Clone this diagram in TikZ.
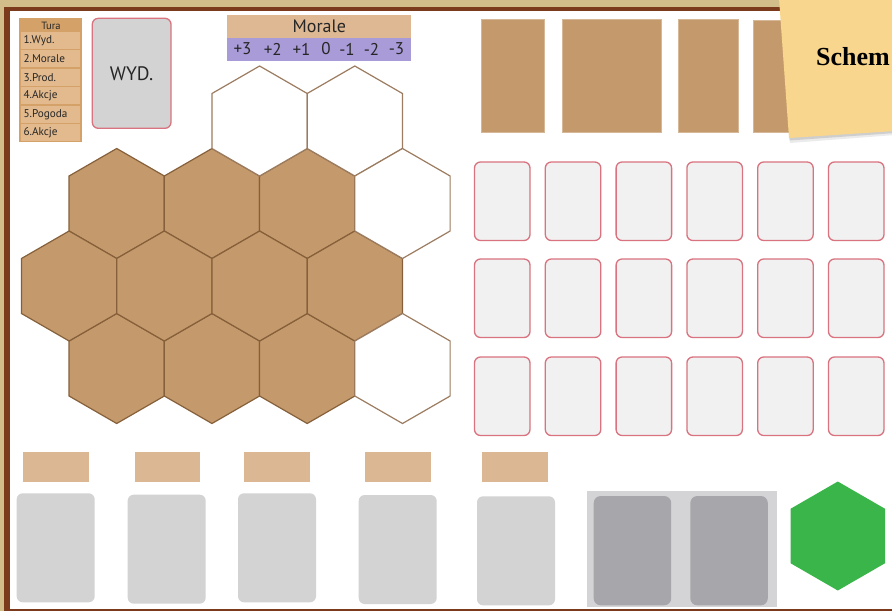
\documentclass[tikz,border=0pt]{standalone}
\usepackage{fontspec}
\setmainfont{PT Sans}
\newfontfamily\notefont{Liberation Serif}
\usetikzlibrary{shapes.geometric}
\definecolor{woodbg}{HTML}{D2BD8A}
\definecolor{framecol}{HTML}{7B3A1C}
\definecolor{hexbrown}{HTML}{C49A6C}
\definecolor{hexline}{HTML}{86603A}
\definecolor{hexwline}{HTML}{9C7C60}
\definecolor{cardline}{HTML}{D9737F}
\definecolor{cardfill}{HTML}{F1F1F2}
\definecolor{slotgray}{HTML}{D3D3D3}
\definecolor{slotdark}{HTML}{A7A6AB}
\definecolor{slotbg}{HTML}{D4D4D6}
\definecolor{tanlabel}{HTML}{DBB794}
\definecolor{moralehead}{HTML}{DDB893}
\definecolor{moralebar}{HTML}{A99AD8}
\definecolor{turaout}{HTML}{D4A269}
\definecolor{turain}{HTML}{E2BA8E}
\definecolor{notecol}{HTML}{F8D68E}
\definecolor{hexgreen}{HTML}{39B54A}
\definecolor{txt}{HTML}{262626}
\definecolor{topbrown}{HTML}{C49A6C}
\tikzset{
  box/.style={rectangle, anchor=north west, inner sep=0pt, outer sep=0pt},
  hexcell/.style={regular polygon, regular polygon sides=6, shape border rotate=30,
    minimum size=110pt, inner sep=0pt, outer sep=0pt},
  brownhex/.style={hexcell, fill=hexbrown, draw=hexline, line width=1.2pt},
  whitehex/.style={hexcell, fill=white, draw=hexwline, line width=1.2pt},
  greenhex/.style={hexcell, minimum size=109pt, fill=hexgreen},
  redcard/.style={box, fill=cardfill, draw=cardline, line width=1.3pt, rounded corners=6pt,
    minimum width=55.5pt, minimum height=78.5pt},
  graycard/.style={box, fill=slotgray, rounded corners=6pt, minimum width=78pt, minimum height=109pt},
  darkcard/.style={box, fill=slotdark, rounded corners=7pt, minimum width=77.5pt, minimum height=109.3pt},
  tanlab/.style={box, fill=tanlabel, minimum width=65.7pt, minimum height=29.3pt},
  topslot/.style={box, fill=topbrown, draw=topbrown!70!white, line width=0.5pt, minimum height=113pt},
  turacell/.style={box, fill=turain, minimum width=58.7pt, minimum height=16.8pt},
  turatxt/.style={anchor=west, inner sep=0pt, text=txt, font=\fontsize{11.2}{13}\selectfont},
  numtxt/.style={inner sep=0pt, text=txt, font=\fontsize{17}{20}\selectfont}
}
\begin{document}
\begin{tikzpicture}[x=1pt,y=-1pt]
\useasboundingbox (0,0) rectangle (892,611);
% background and frame
\fill[woodbg] (0,0) rectangle (892,611);
\fill[framecol] (4,7) rectangle (892,611);
\fill[white] (10,11) rectangle (892,608.5);

% Tura panel
\node[box, fill=turaout, minimum width=63pt, minimum height=124pt] (tura) at (19.3,18.3) {};
\node[inner sep=0pt, text=txt, font=\fontsize{10.5}{12}\selectfont] (turah) at (51,25.5) {Tura};
\foreach \i/\t [count=\k] in {0/1.Wyd., 1/2.Morale, 2/3.Prod., 3/4.Akcje, 4/5.Pogoda, 5/6.Akcje}{
  \node[turacell] (tc\k) at (21.3,{31.9+18.5*\i}) {};
  \node[turatxt] (tt\k) at (23.3,{31.9+18.5*\i+8.6}) {\t};
}

% WYD card
\node[box, fill=slotgray, draw=cardline, line width=1.3pt, rounded corners=6pt,
  minimum width=78.7pt, minimum height=110pt] (wyd) at (92.3,18.3) {};
\node[inner sep=0pt, text=txt, font=\fontsize{19.5}{22}\selectfont] (wydt) at (131.6,74) {WYD.};

% Morale
\node[box, fill=moralehead, minimum width=184pt, minimum height=22.7pt] (morh) at (227.3,15) {};
\node[box, fill=moralebar, minimum width=184pt, minimum height=23pt] (morb) at (227.3,37.7) {};
\node[inner sep=0pt, text=txt, font=\fontsize{18}{20}\selectfont] (mort) at (319.3,26.5) {Morale};
\foreach \x/\t [count=\k] in {242.5/+3, 272.7/+2, 301.5/+1, 326/0, 347/-1, 371.5/-2, 396.5/-3}{
  \node[numtxt] (mn\k) at (\x,49) {\t};
}

% hex grid
\foreach \x [count=\k] in {116.7, 211.96, 307.2}{
  \node[brownhex] (ha\k) at (\x,203.5) {};
  \node[brownhex] (hc\k) at (\x,368.5) {};
}
\foreach \x [count=\k] in {69.1, 164.3, 259.6, 354.8}{
  \node[brownhex] (hb\k) at (\x,286) {};
}
\node[whitehex] (w1) at (259.6,121) {};
\node[whitehex] (w2) at (354.8,121) {};
\node[whitehex] (w3) at (402.5,203.5) {};
\node[whitehex] (w4) at (402.5,368.5) {};

% top brown slots
\node[topslot, minimum width=63.4pt] (ts1) at (481.3,19) {};
\node[topslot, minimum width=99.7pt] (ts2) at (562,19) {};
\node[topslot, minimum width=59.6pt] (ts3) at (678.7,19) {};
\node[topslot, minimum width=50pt, minimum height=112pt] (ts4) at (753.3,20) {};

% red card grid
\foreach \r/\y in {1/162, 2/259, 3/357}{
  \foreach \c in {1,...,6}{
    \node[redcard] (rc\r\c) at ({474.5+70.8*(\c-1)},\y) {};
  }
}

% bottom labels and cards
\foreach \lx/\cx/\cy [count=\k] in {23/16.7/493.3, 134.7/127.7/494.7, 244.3/238/493.3, 365/358.7/495, 482.3/477/496.3}{
  \node[tanlab] (bl\k) at (\lx,452.3) {};
  \node[graycard] (bc\k) at (\cx,\cy) {};
}

% grey panel with two dark cards
\node[box, fill=slotbg, minimum width=190.3pt, minimum height=115.7pt] (gp) at (586.7,491) {};
\node[darkcard] (dc1) at (593.7,496) {};
\node[darkcard] (dc2) at (690.3,496) {};

% green hex
\node[greenhex] (gh) at (837.8,536) {};

% sticky note
\fill[black, opacity=0.08] (780,-2) -- (895,-2) -- (895,135) -- (790,143) -- cycle;
\fill[black, opacity=0.12] (780,-2) -- (895,-2) -- (895,133) -- (789.5,140.5) -- cycle;
\fill[notecol] (779,-2) -- (895,-2) -- (895,131) -- (789,138) -- cycle;
\node[anchor=base west, inner sep=0pt, font=\notefont\bfseries\fontsize{26}{30}\selectfont] (note) at (816,65) {Schem};
\end{tikzpicture}
\end{document}
